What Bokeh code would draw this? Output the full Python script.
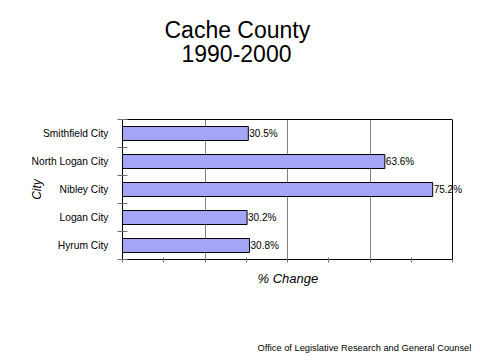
from bokeh.plotting import figure
from bokeh.models import (ColumnDataSource, Range1d, FixedTicker, LabelSet, Title,
                          LinearAxis, Span)
from bokeh.core.properties import value
from bokeh.embed import file_html
from bokeh.resources import INLINE

# Data (bottom to top)
cities = ["Hyrum City", "Logan City", "Nibley City", "North Logan City", "Smithfield City"]
pct_change = [30.8, 30.2, 75.2, 63.6, 30.5]
x_ticks = [0, 10, 20, 30, 40, 50, 60, 70, 80]
x_grid = [20, 40, 60]
x_max = 80

FONT = "Liberation Sans"
TICK = "#707070"

pos = [i + 0.5 for i in range(len(cities))]
src = ColumnDataSource(dict(
    y=pos,
    v=pct_change,
    lbl=[f"{v:.1f}%" for v in pct_change],
))

# frame extends a little past x_max so the longest value label is not clipped
x_end = x_max * 350 / 330
p = figure(width=480, height=360, output_backend="svg", toolbar_location=None,
           x_range=Range1d(0, x_end), y_range=Range1d(0, len(cities)),
           min_border_left=122, min_border_right=8,
           min_border_top=119, min_border_bottom=101)
p.background_fill_color = "white"
p.border_fill_color = "white"
p.outline_line_color = None

p.xgrid.ticker = FixedTicker(ticks=x_grid)
p.xgrid.grid_line_color = "#808080"
p.ygrid.grid_line_color = None
p.add_layout(Span(location=x_max, dimension="height", line_color="black", line_width=1))

p.hbar(y="y", left=0, right="v", height=0.5, source=src,
       fill_color="#a5a5f5", line_color="black", line_width=1)

p.add_layout(LabelSet(x="v", y="y", text="lbl", source=src, x_offset=1,
                      text_baseline="middle", text_align="left",
                      text_font=value(FONT), text_font_size=value("10px"),
                      text_color="black"))

# x axis (below)
xa = p.xaxis[0]
xa.bounds = (0, x_max)
xa.ticker = FixedTicker(ticks=x_ticks)
xa.major_label_overrides = {t: "" for t in x_ticks}
xa.major_tick_in = 2
xa.major_tick_out = 3
xa.minor_tick_line_color = None
xa.axis_line_color = "black"
xa.major_tick_line_color = TICK

# top border (above axis; invisible tick gives the gap under the titles)
top = LinearAxis(ticker=FixedTicker(ticks=[x_max]), bounds=(0, x_max),
                 major_tick_in=0, major_tick_out=58, major_tick_line_color="white",
                 major_label_overrides={x_max: ""}, major_label_standoff=0,
                 major_label_text_font_size="1px",
                 minor_tick_line_color=None, axis_line_color="black")
p.add_layout(top, "above")

# y axis
ya = p.yaxis[0]
ya.ticker = FixedTicker(ticks=pos, minor_ticks=list(range(len(cities) + 1)))
ya.major_label_overrides = {pp: c for pp, c in zip(pos, cities)}
ya.major_tick_in = 0
ya.major_tick_out = 0
ya.minor_tick_in = 5
ya.minor_tick_out = 5
ya.minor_tick_line_color = TICK
ya.major_label_standoff = 9
ya.major_label_text_font = FONT
ya.major_label_text_font_size = "10.25px"
ya.major_label_text_color = "black"
ya.axis_line_color = "black"
ya.axis_label = "City"
ya.axis_label_text_font = FONT
ya.axis_label_text_font_size = "12px"
ya.axis_label_text_font_style = "italic"
ya.axis_label_text_color = "black"
ya.axis_label_standoff = -15

# titles above
p.add_layout(Title(text="1990-2000", align="left", offset=59, standoff=0,
                   text_font=FONT, text_font_size="23px", text_font_style="normal",
                   text_color="black"), "above")
p.add_layout(Title(text="Cache County", align="left", offset=42, standoff=0,
                   text_font=FONT, text_font_size="23px", text_font_style="normal",
                   text_color="black"), "above")

# texts below
p.add_layout(Title(text="% Change", align="left", offset=135, standoff=12,
                   text_font=FONT, text_font_size="13px", text_font_style="italic",
                   text_color="black"), "below")
spacer = LinearAxis(ticker=FixedTicker(ticks=[0]), bounds=(0, x_max),
                    major_tick_in=0, major_tick_out=47, major_tick_line_color="white",
                    major_label_overrides={0: ""}, major_label_standoff=0,
                    major_label_text_font_size="1px",
                    minor_tick_line_color=None, axis_line_color=None)
p.add_layout(spacer, "below")
p.add_layout(Title(text="Office of Legislative Research and General Counsel",
                   align="left", offset=135, standoff=4,
                   text_font=FONT, text_font_size="9.3px", text_font_style="normal",
                   text_color="black"), "below")

open("out.html", "w").write(file_html(p, INLINE))
